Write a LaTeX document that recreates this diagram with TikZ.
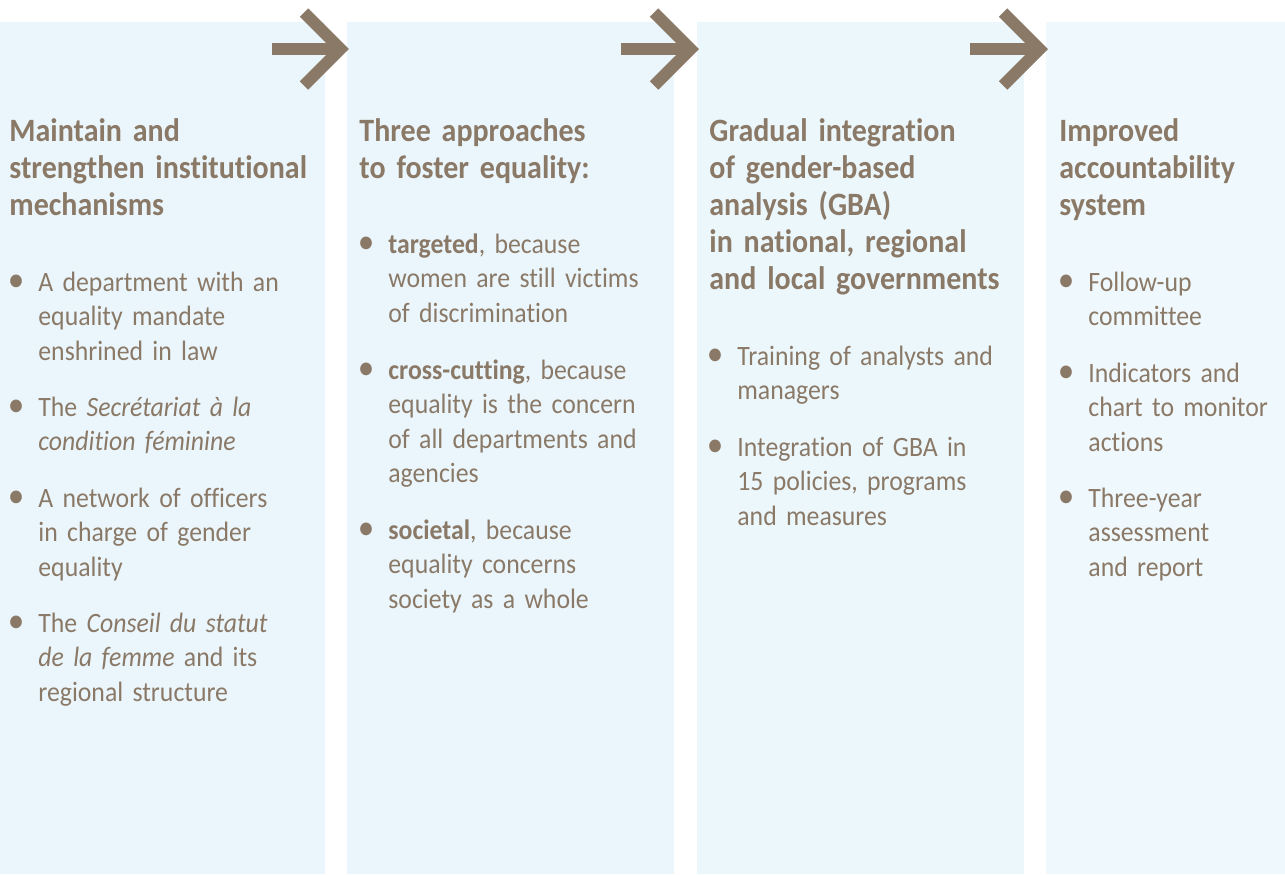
\documentclass[tikz,border=0pt]{standalone}
\usepackage{fontspec}
\setmainfont{Carlito}[FakeStretch=0.92, Ligatures=NoCommon]
\usetikzlibrary{calc}

\definecolor{taupe}{HTML}{8B7967}
\definecolor{ice}{HTML}{EAF6FC}
\definecolor{icelite}{HTML}{EFF8FC}

% bullet hung in the left margin of an item
\newcommand{\itemdot}{\leavevmode\llap{{\fontsize{18}{18}\selectfont\textbullet}\hspace{7pt}}}

\tikzset{
  panel/.style={fill=ice, draw=none},
  heading/.style={anchor=base west, inner sep=0pt, text width=170pt, align=left,
    text=taupe, font=\fontsize{16.3}{18.5}\selectfont\bfseries},
  point/.style={anchor=base west, inner sep=0pt, text width=150pt, align=left,
    text=taupe, font=\fontsize{14}{17.25}\selectfont},
  flow/.style={line width=6pt, taupe},
  chevron/.style={line width=6pt, taupe, line join=miter, line cap=butt}
}

\begin{document}
\begin{tikzpicture}[x=0.5pt, y=-0.5pt]
    \useasboundingbox (0,0) rectangle (1285,874);

    % four columns
    \fill[panel] (0,22) rectangle (325,874);
    \fill[panel] (347,22) rectangle (674,874);
    \fill[panel, fill=ice!60!icelite] (697,22) rectangle (1024,874);
    \fill[panel, fill=icelite] (1046,22) rectangle (1285,874);

    % arrows between the columns
    \coordinate (tail1) at (272,49);
    \coordinate (tip1) at (340.5,49);
    \coordinate (tail2) at (621,49);
    \coordinate (tip2) at (690.5,49);
    \coordinate (tail3) at (970,49);
    \coordinate (tip3) at (1039.5,49);

    \draw[flow] (tail1) -- (tip1);
    \draw[chevron] ($(tip1)+(-36.5,-36.5)$) -- (tip1) -- ($(tip1)+(-36.5,36.5)$);
    \draw[flow] (tail2) -- (tip2);
    \draw[chevron] ($(tip2)+(-36.5,-36.5)$) -- (tip2) -- ($(tip2)+(-36.5,36.5)$);
    \draw[flow] (tail3) -- (tip3);
    \draw[chevron] ($(tip3)+(-36.5,-36.5)$) -- (tip3) -- ($(tip3)+(-36.5,36.5)$);

    % column 1
    \node[heading] (inst) at (9,141.5) {Maintain and\\strengthen institutional\\mechanisms};
    \node[point] (inst1) at (38,291) {\itemdot A department with an\\equality mandate\\enshrined in law};
    \node[point] (inst2) at (38,416) {\itemdot The \textit{Secrétariat à la}\\\textit{condition féminine}};
    \node[point] (inst3) at (38,507) {\itemdot A network of officers\\in charge of gender\\equality};
    \node[point] (inst4) at (38,632) {\itemdot The \textit{Conseil du statut}\\\textit{de la femme} and its\\regional structure};

    % column 2
    \node[heading] (appr) at (359,141.5) {Three approaches\\to foster equality:};
    \node[point] (appr1) at (388,253) {\itemdot\textbf{targeted}, because\\women are still victims\\of discrimination};
    \node[point] (appr2) at (388,379) {\itemdot\textbf{cross-cutting}, because\\equality is the concern\\of all departments and\\agencies};
    \node[point] (appr3) at (388,539) {\itemdot\textbf{societal}, because\\equality concerns\\society as a whole};

    % column 3
    \node[heading] (gba) at (709,141.5) {Gradual integration\\of gender-based\\analysis (GBA)\\in national, regional\\and local governments};
    \node[point] (gba1) at (737,365) {\itemdot Training of analysts and\\managers};
    \node[point] (gba2) at (737,456) {\itemdot Integration of GBA in\\15 policies, programs\\and measures};

    % column 4
    \node[heading] (acct) at (1059,141.5) {Improved\\accountability\\system};
    \node[point] (acct1) at (1088,291) {\itemdot Follow-up\\committee};
    \node[point] (acct2) at (1088,382) {\itemdot Indicators and\\chart to monitor\\actions};
    \node[point] (acct3) at (1088,507) {\itemdot Three-year\\assessment\\and report};
\end{tikzpicture}
\end{document}
